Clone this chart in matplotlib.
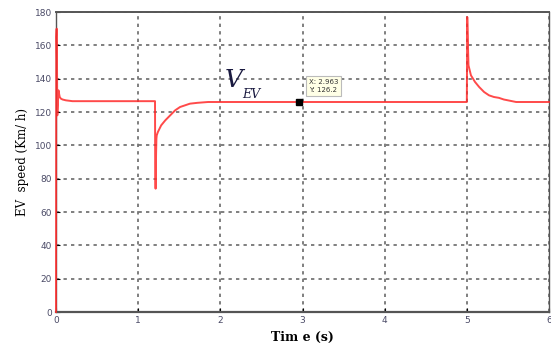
import numpy as np
import matplotlib.pyplot as plt

# EV speed response
time_s = [0, 0.003, 0.008, 0.012, 0.016, 0.02, 0.03, 0.045, 0.06, 0.08, 0.12, 0.2, 0.3,
          1.205, 1.207, 1.212, 1.218, 1.222, 1.226, 1.24, 1.28, 1.33, 1.39, 1.45, 1.51,
          1.57, 1.63, 1.72, 1.85, 2.0, 4.99, 5.0, 5.005, 5.02, 5.05, 5.1, 5.15, 5.21,
          5.27, 5.33, 5.39, 5.45, 5.5, 5.6, 6.0]
speed = [0, 165, 170, 150, 118, 122, 133, 129, 128, 127.5, 127, 126.5, 126.5,
         126.5, 90, 74, 95, 104, 106, 108, 112, 115, 118, 121, 123,
         124, 125, 125.5, 126, 126, 126, 126, 177, 148, 142, 138, 135, 132,
         130, 129, 128.5, 127.5, 127, 126, 126]

tip_x, tip_y = 2.963, 126.2
xticks = [0, 1, 2, 3, 4, 5, 6]
yticks = list(range(0, 181, 20))

fig = plt.figure(figsize=(5.51, 3.49), dpi=100)
ax = fig.add_axes([56 / 551, 37 / 349, 493 / 551, 300 / 349])

ax.plot(time_s, speed, color='#ff2a2a', lw=1.4, alpha=0.85, clip_on=False, zorder=3)

ax.set_xlim(0, 6)
ax.set_ylim(0, 180)
ax.set_xticks(xticks)
ax.set_yticks(yticks)
ax.tick_params(direction='in', length=3, labelsize=6.5, labelcolor='#4a4a66', pad=3)
ax.grid(True, color='#6a6a6a', linestyle=(0, (2, 2.5)), linewidth=1.2)
for s in ax.spines.values():
    s.set_color('#555555')
    s.set_linewidth(1.0)
ax.spines['bottom'].set_linewidth(1.6)
ax.spines['top'].set_linewidth(1.4)

ax.set_ylabel('EV  speed (Km/ h)', family='DejaVu Serif', fontsize=8.5, labelpad=4)
ax.set_xlabel('Tim e (s)', family='DejaVu Serif', fontsize=9, labelpad=4, fontweight='bold')

# signal label
ax.text(2.05, 135, 'V', fontsize=18, color='#1a1a40', family='DejaVu Serif', style='italic')
ax.text(2.26, 128.5, 'EV', fontsize=9, color='#1a1a40', family='DejaVu Serif', style='italic')

# datatip
ax.plot([tip_x], [tip_y], marker='s', color='black', ms=5, zorder=5)
ax.annotate(f'X: {tip_x}\nY: {tip_y}', xy=(tip_x, tip_y), xytext=(7, 6),
            textcoords='offset points', fontsize=5, color='#333333',
            va='bottom', ha='left', linespacing=1.5,
            bbox=dict(boxstyle='square,pad=0.4', fc='#ffffe6', ec='#bbbbbb', lw=0.8),
            zorder=6)

fig.savefig('out.png', dpi=100)
